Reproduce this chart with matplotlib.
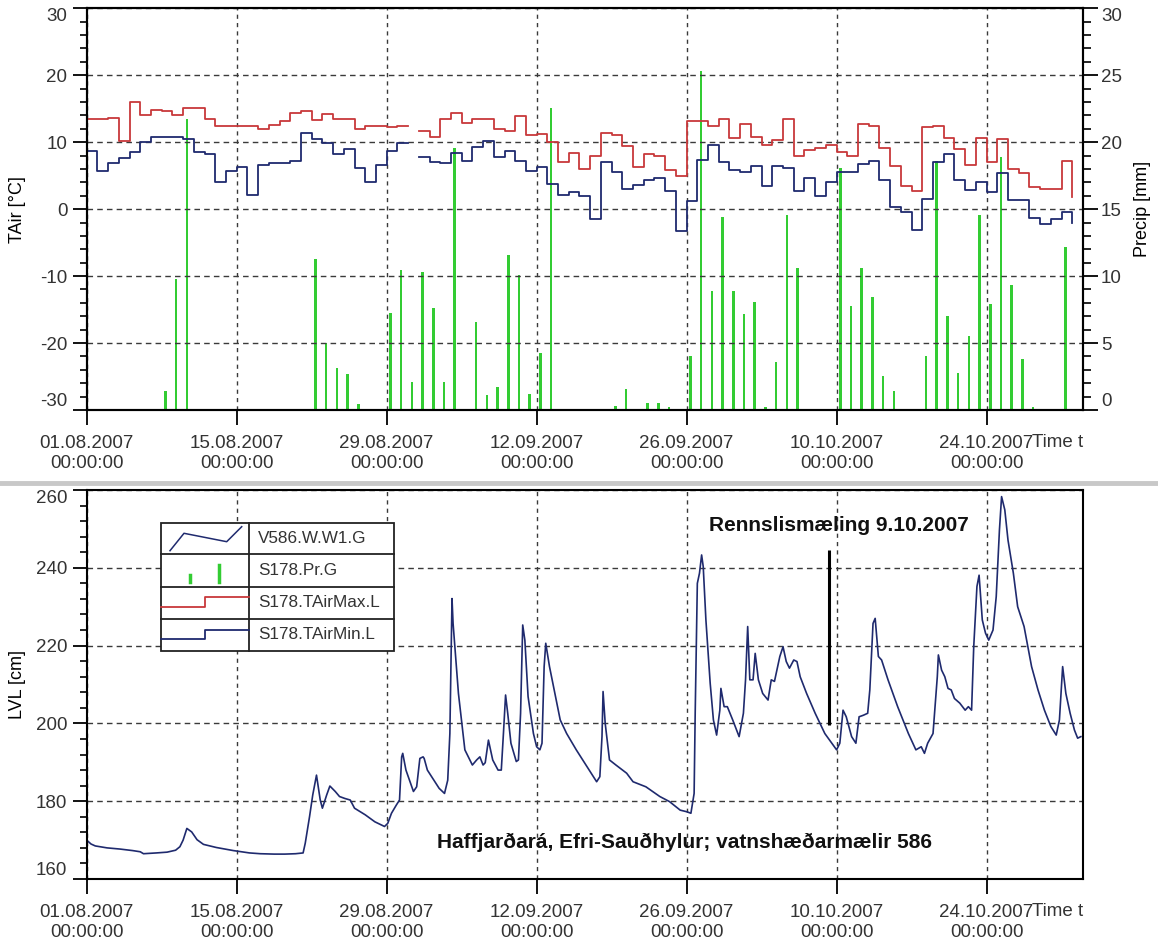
import numpy as np
import matplotlib
matplotlib.use('Agg')
import matplotlib.pyplot as plt
import matplotlib.dates as mdates
from matplotlib.lines import Line2D
from matplotlib.patches import Rectangle
from datetime import datetime

plt.rcParams['font.family'] = ['Liberation Sans', 'DejaVu Sans']
plt.rcParams['axes.unicode_minus'] = False

# ---- data (days counted from 01.08.2007 00:00) ----
start = datetime(2007, 8, 1)
n_days = 93

tair_max = [13.4, 13.4, 13.65, 10.15, 16.0, 14.1, 14.75, 14.6, 14.1, 15.1,
            15.1, 13.4, 12.4, 12.4, 12.4, 12.4, 12.0, 12.5, 13.15, 14.35,
            14.6, 13.35, 14.15, 13.4, 13.4, 12.0, 12.4, 12.4, 12.25, 12.4,
            np.nan, 11.6, 10.85, 13.5, 14.35, 12.9, 13.4, 13.4, 12.0, 11.6,
            13.9, 11.1, 11.25, 10.0, 7.0, 8.4, 6.0, 8.0, 11.4, 11.1,
            9.4, 6.35, 8.25, 8.0, 5.9, 4.95, 13.15, 13.15, 12.4, 13.4,
            10.6, 12.75, 10.85, 9.65, 10.4, 13.4, 8.0, 8.9, 9.15, 9.65,
            8.6, 8.0, 12.65, 12.4, 9.1, 6.4, 3.4, 2.65, 12.25, 12.4,
            10.6, 9.0, 6.65, 10.6, 7.0, 10.5, 6.0, 5.35, 3.35, 3.0,
            3.0, 7.15, 1.85]

tair_min = [8.65, 5.75, 6.85, 7.6, 8.5, 10.0, 10.75, 10.75, 10.75, 10.5,
            8.6, 8.25, 4.0, 5.75, 6.35, 2.15, 6.65, 6.85, 6.9, 7.25,
            11.4, 10.5, 9.85, 8.25, 9.0, 6.15, 4.0, 6.65, 8.75, 9.85,
            np.nan, 7.75, 7.1, 6.85, 8.35, 7.15, 9.35, 10.25, 7.75, 8.75,
            7.15, 5.75, 6.35, 3.75, 2.15, 2.6, 2.0, -1.4, 7.0, 5.5,
            2.95, 3.6, 4.35, 4.6, 2.75, -3.25, 1.25, 7.4, 9.6, 7.1,
            5.9, 5.5, 6.5, 3.5, 6.5, 6.1, 2.65, 4.6, 2.0, 4.0,
            5.5, 5.5, 6.75, 7.15, 4.35, 0.35, -0.5, -3.15, 1.5, 7.0,
            8.25, 4.35, 2.85, 4.0, 2.6, 5.4, 1.35, 1.35, -1.25, -2.25,
            -1.5, -0.5, -2.0]

precip = [0, 0, 0, 0, 0.1, 0, 0.1, 1.4, 9.75, 21.7,
          0.1, 0, 0, 0, 0, 0, 0, 0, 0, 0,
          0, 11.25, 5.0, 3.1, 2.7, 0.45, 0, 0, 7.25, 10.45,
          2.1, 10.3, 7.6, 2.1, 19.6, 0, 6.6, 1.1, 1.7, 11.55,
          10.05, 1.2, 4.25, 22.55, 0.1, 0, 0, 0, 0, 0.3,
          1.6, 0, 0.5, 0.5, 0.2, 0, 4.05, 25.3, 8.9, 14.4,
          8.9, 7.2, 8.1, 0.2, 3.6, 14.55, 10.6, 0, 0, 0,
          18.1, 7.75, 10.6, 8.45, 2.55, 1.4, 0, 0, 4.05, 18.6,
          7.05, 2.75, 5.55, 14.6, 7.9, 18.9, 9.3, 3.8, 0.2, 0,
          0, 12.2, 0]

lvl_days = [0.0, 0.4, 0.8, 1.9, 3.1, 4.3, 5.0, 5.3, 6.5, 7.5,
            8.3, 8.7, 9.0, 9.35, 9.8, 10.3, 10.9, 12.1, 13.7, 15.2,
            16.2, 17.5, 18.5, 19.5, 20.2, 20.4, 20.8, 21.1, 21.45, 21.8,
            22.0, 22.4, 22.7, 23.2, 23.6, 24.1, 24.6, 25.0, 26.0, 26.9,
            27.8, 28.1, 28.45, 28.9, 29.2, 29.4, 29.5, 29.8, 30.5, 30.8,
            31.1, 31.4, 31.5, 31.8, 32.9, 33.4, 33.7, 33.9, 34.1, 34.2,
            34.7, 35.3, 36.0, 36.4, 36.7, 37.0, 37.2, 37.5, 37.9, 38.4,
            38.7, 38.9, 39.1, 39.3, 39.6, 40.1, 40.3, 40.5, 40.7, 40.9,
            41.2, 41.7, 42.0, 42.3, 42.5, 42.7, 42.85, 43.2, 43.7, 44.2,
            44.8, 45.7, 46.6, 47.6, 47.9, 48.1, 48.2, 48.4, 48.8, 49.4,
            50.4, 51.0, 52.2, 53.5, 54.4, 55.4, 56.0, 56.4, 56.7, 56.8,
            57.0, 57.2, 57.4, 57.55, 57.8, 58.2, 58.5, 58.8, 59.1, 59.2,
            59.5, 59.8, 60.3, 60.9, 61.3, 61.5, 61.7, 61.9, 62.2, 62.4,
            62.7, 63.1, 63.6, 63.9, 64.2, 64.7, 65.0, 65.3, 65.6, 66.0,
            66.3, 66.6, 67.2, 68.0, 68.9, 70.0, 70.3, 70.6, 70.9, 71.4,
            71.8, 72.1, 72.5, 72.9, 73.1, 73.4, 73.6, 73.9, 74.2, 74.8,
            75.7, 76.7, 77.4, 77.9, 78.2, 78.5, 79.0, 79.4, 79.5, 79.8,
            80.1, 80.4, 80.7, 81.0, 81.5, 82.0, 82.3, 82.6, 82.8, 83.1,
            83.3, 83.6, 83.9, 84.2, 84.6, 84.9, 85.2, 85.4, 85.7, 86.0,
            86.5, 86.9, 87.5, 88.2, 88.8, 89.4, 90.0, 90.5, 90.8, 91.1,
            91.4, 91.8, 92.2, 92.5, 92.8]

lvl_vals = [170.0, 169.0, 168.5, 168.0, 167.7, 167.3, 167.0, 166.5, 166.7, 166.9,
            167.4, 168.3, 170.0, 173.0, 172.1, 170.1, 168.9, 168.1, 167.3, 166.7,
            166.5, 166.4, 166.4, 166.5, 166.7, 169.2, 176.0, 181.6, 186.7, 180.3,
            178.2, 181.6, 183.9, 182.5, 181.2, 180.7, 180.3, 178.2, 176.5, 174.7,
            173.5, 174.3, 176.9, 179.0, 180.3, 191.4, 192.3, 188.0, 182.5, 183.7,
            191.0, 191.4, 191.0, 188.0, 183.3, 182.0, 185.4, 197.4, 232.1, 225.7,
            207.7, 193.2, 189.3, 190.6, 191.4, 189.3, 189.9, 195.7, 190.6, 188.0,
            188.0, 197.4, 207.3, 202.6, 194.9, 190.2, 190.6, 202.6, 225.3, 221.4,
            206.9, 197.4, 194.0, 193.2, 194.9, 214.6, 220.6, 214.6, 207.7, 200.9,
            197.4, 193.2, 189.3, 185.0, 186.3, 196.6, 208.2, 200.0, 190.6, 189.3,
            187.2, 185.0, 183.7, 181.2, 179.9, 177.7, 177.3, 176.9, 182.0, 202.6,
            236.0, 238.6, 243.3, 240.3, 226.6, 210.3, 200.9, 197.0, 203.4, 209.0,
            204.3, 204.3, 200.9, 196.6, 202.6, 211.2, 224.9, 211.2, 211.2, 218.0,
            211.2, 207.7, 206.0, 211.2, 210.8, 217.2, 219.7, 215.9, 214.2, 216.3,
            215.9, 212.0, 207.7, 202.6, 197.4, 193.2, 194.9, 203.4, 201.7, 196.6,
            194.9, 201.7, 202.1, 202.6, 208.6, 225.7, 227.0, 217.2, 216.3, 211.2,
            204.3, 197.4, 193.2, 194.0, 192.3, 194.9, 197.4, 212.0, 217.6, 213.7,
            212.0, 209.0, 208.6, 206.4, 205.2, 203.4, 204.3, 203.4, 219.7, 235.2,
            238.1, 226.6, 223.2, 221.4, 224.0, 232.6, 249.7, 258.3, 254.9, 247.1,
            238.6, 230.0, 224.9, 214.6, 208.6, 203.4, 199.2, 197.0, 200.9, 214.6,
            207.7, 202.6, 198.3, 196.2, 196.6]

# discharge measurement 9.10.2007
measure_day = 69.3
measure_low, measure_high = 199.6, 244.7

base = mdates.date2num(start)
t_days = base + np.arange(n_days)
t_lvl = base + np.array(lvl_days)
tick_pos = base + np.arange(0, 85, 14)

W, H = 1158, 949
fig = plt.figure(figsize=(W / 100, H / 100), dpi=100)

def px_box(x0, y0, x1, y1):
    return [x0 / W, 1 - y1 / H, (x1 - x0) / W, (y1 - y0) / H]

ax_t = fig.add_axes(px_box(86.7, 8.3, 1083, 410))
ax_p = ax_t.twinx()
ax_l = fig.add_axes(px_box(86.7, 490, 1083, 879))

red = '#c8383a'
navy = '#1f2a6e'
green = '#33cc33'
tick_font = 13.5

# precipitation bars
ax_p.bar(t_days + 0.35, precip, width=0.24, color=green, linewidth=0)
ax_p.set_ylim(0, 30)

# temperature steps
ax_t.plot(t_days, tair_max, drawstyle='steps-post', color=red, lw=1.3)
ax_t.plot(t_days, tair_min, drawstyle='steps-post', color=navy, lw=1.3)
ax_t.set_ylim(-30, 30)
ax_t.set_zorder(ax_p.get_zorder() + 1)
ax_t.patch.set_visible(False)

# water level
ax_l.plot(t_lvl, lvl_vals, color=navy, lw=1.2)
ax_l.vlines(base + measure_day, measure_low, measure_high, color='black', lw=2.2)
ax_l.set_ylim(160, 260)

for ax in (ax_t, ax_l):
    ax.set_xlim(base, base + n_days)
    ax.set_xticks(tick_pos)
    ax.xaxis.set_major_formatter(mdates.DateFormatter('%d.%m.%Y\n%H:%M:%S'))
    ax.xaxis.grid(True, ls=(0, (3, 3)), color='#3a3a3a', lw=1)
    ax.yaxis.grid(True, ls=(0, (4, 3)), color='#3a3a3a', lw=1)
    ax.tick_params(axis='x', direction='out', length=11, width=1.3, pad=7,
                   labelsize=tick_font, colors='black', labelcolor='#333333')
    ax.tick_params(axis='y', which='major', direction='out', length=10, width=1.3,
                   pad=4, labelsize=tick_font, labelcolor='#333333')
    ax.tick_params(axis='y', which='minor', direction='out', length=5, width=1.2)

ax_t.set_yticks(np.arange(-30, 31, 10))
ax_t.set_yticks(np.arange(-30, 31, 2), minor=True)
ax_p.set_yticks(np.arange(0, 31, 5))
ax_p.set_yticks(np.arange(0, 31, 1), minor=True)
ax_p.tick_params(axis='y', which='major', direction='out', length=11, width=1.3,
                 pad=2, labelsize=tick_font, labelcolor='#333333')
ax_p.tick_params(axis='y', which='minor', direction='out', length=6, width=1.2)
ax_l.set_yticks(np.arange(160, 261, 20))
ax_l.set_yticks(np.arange(160, 261, 4), minor=True)

# keep the end labels inside the axis span
for ax in (ax_t, ax_p, ax_l):
    labs = ax.get_yticklabels()
    labs[0].set_va('bottom')
    labs[-1].set_va('top')

for ax in (ax_t, ax_p, ax_l):
    for sp in ax.spines.values():
        sp.set_linewidth(1.5)
        sp.set_color('black')

ax_t.set_ylabel('TAir [°C]', fontsize=13)
ax_t.yaxis.set_label_coords(-0.061, 0.5)
ax_p.set_ylabel('Precip [mm]', fontsize=13)
ax_p.yaxis.set_label_coords(1.051, 0.5)
ax_l.set_ylabel('LVL [cm]', fontsize=13)
ax_l.yaxis.set_label_coords(-0.061, 0.5)

ax_l.text(base + 58.1, 251, 'Rennslismæling 9.10.2007', fontsize=15,
          fontweight='bold', ha='left', va='center', color='#111111')
ax_l.text(base + 55.8, 169.3, 'Haffjarðará, Efri-Sauðhylur; vatnshæðarmælir 586',
          fontsize=15, fontweight='bold', ha='center', va='center', color='#111111')

# overlay in pixel coordinates for legend table, separator and "Time t"
ov = fig.add_axes([0, 0, 1, 1], zorder=10)
ov.set_xlim(0, W)
ov.set_ylim(H, 0)
ov.axis('off')
ov.patch.set_visible(False)

ov.plot([0, W], [483, 483], color='#c8c8c8', lw=3.5)
ov.text(1083, 442, 'Time t', ha='right', va='center', fontsize=tick_font, color='#333333')
ov.text(1083, 912, 'Time t', ha='right', va='center', fontsize=tick_font, color='#333333')

# legend table
lx0, lx1, ldiv = 161, 394.3, 249
rows = [522.7, 554, 586.7, 619, 650.7]
ov.add_patch(Rectangle((lx0, rows[0]), lx1 - lx0, rows[-1] - rows[0],
                       facecolor='white', edgecolor='#222222', lw=1.3))
for y in rows[1:-1]:
    ov.plot([lx0, lx1], [y, y], color='#222222', lw=1.3)
ov.plot([ldiv, ldiv], [rows[0], rows[-1]], color='#222222', lw=1.3)

ov.plot([170, 184, 226.7, 241.7], [550.7, 533.3, 541.7, 526.7], color=navy, lw=1.1)
ov.plot([190, 190], [575, 581.7], color=green, lw=2.5)
ov.plot([219.3, 219.3], [565, 581.7], color=green, lw=2.5)
ov.plot([lx0, 205, 205, ldiv], [607.3, 607.3, 596.7, 596.7], color=red, lw=1.3)
ov.plot([lx0, 205, 205, ldiv], [639, 639, 630, 630], color=navy, lw=1.3)

names = ['V586.W.W1.G', 'S178.Pr.G', 'S178.TAirMax.L', 'S178.TAirMin.L']
for i, name in enumerate(names):
    ov.text(258.3, (rows[i] + rows[i + 1]) / 2, name, ha='left', va='center',
            fontsize=12.3, color='#333333')

fig.savefig('out.png', dpi=100)
